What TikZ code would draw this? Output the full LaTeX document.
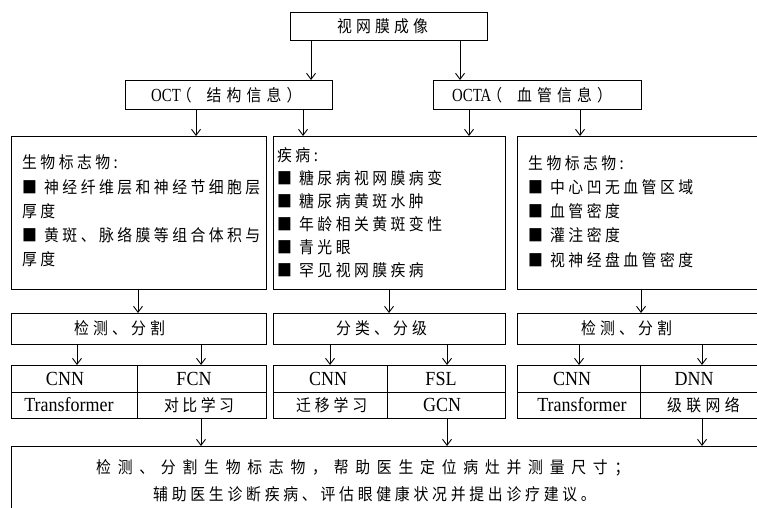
\documentclass[tikz,border=0pt]{standalone}
\usepackage{fontspec}
\setmainfont{Liberation Serif}
\newfontfamily\cjk[FakeStretch=0.9]{Noto Sans CJK SC}
\newfontfamily\latA[FakeStretch=0.9]{Liberation Serif}
\newfontfamily\latB[FakeStretch=0.8]{Liberation Serif}
\usetikzlibrary{arrows.meta}
\makeatletter
\newlength\pitchlen
\def\gr#1{\gr@#1\@nil}
\def\gr@#1{\ifx\@nil#1\else\makebox[\pitchlen][l]{#1}\expandafter\gr@\fi}
\newcommand\tk[2]{\setlength\pitchlen{#1pt}\gr{#2}}
\makeatother
\newcommand\bul{\makebox[22pt][l]{■}}
\begin{document}
\begin{tikzpicture}[x=1pt,y=-1pt,
  box/.style={draw, line width=1.1pt, rectangle, inner sep=0pt, anchor=north west},
  arr/.style={line width=0.9pt, -{Straight Barb[length=6pt,width=9pt,line width=0.9pt]}},
  zh/.style={font=\cjk\fontsize{16.5}{20}\selectfont, inner sep=0pt, anchor=west},
  lat/.style={font=\latA\fontsize{20}{22}\selectfont, inner sep=0pt},
  lst/.style={align=left, anchor=west, inner sep=0pt}
]
\path[use as bounding box] (0,0) rectangle (757,508);
\clip (0,0) rectangle (757,508);

% top
\node[box, minimum width=197pt, minimum height=28pt] (top) at (290,12) {};
\node[zh] (toptxt) at (337,26) {\tk{19}{视网膜成像}};

\node[box, minimum width=207pt, minimum height=29pt] (oct) at (125,80) {};
\node[inner sep=0pt, anchor=west] (octtxt) at (151,95)
 {{\latB\fontsize{18.5}{20}\selectfont OCT}\kern-4pt{\cjk\fontsize{16.5}{20}\selectfont（\kern15pt\tk{20}{结构信息}）}};
\node[box, minimum width=208pt, minimum height=29pt] (octa) at (433,80) {};
\node[inner sep=0pt, anchor=west] (octatxt) at (452,95)
 {{\latB\fontsize{18.5}{20}\selectfont OCTA}\kern-4pt{\cjk\fontsize{16.5}{20}\selectfont（\kern15pt\tk{20}{血管信息}）}};

% big boxes
\node[box, minimum width=255pt, minimum height=153pt] (b1) at (11,136) {};
\node[box, minimum width=232pt, minimum height=153pt] (b2) at (273,136) {};
\node[box, minimum width=255pt, minimum height=153pt] (b3) at (517,136) {};

\node[lst, font=\cjk\fontsize{16.5}{24.2}\selectfont] (b1txt) at (22,211)
 {\tk{18.3}{生物标志物}:\\
  \bul\tk{18.3}{神经纤维层和神经节细胞层}\\
  \tk{18.3}{厚度}\\
  \bul\tk{18.3}{黄斑、脉络膜等组合体积与}\\
  \tk{18.3}{厚度}};
\node[lst, font=\cjk\fontsize{16.5}{23}\selectfont] (b2txt) at (277,212.5)
 {\tk{18.3}{疾病}:\\
  \bul\tk{18.3}{糖尿病视网膜病变}\\
  \bul\tk{18.3}{糖尿病黄斑水肿}\\
  \bul\tk{18.3}{年龄相关黄斑变性}\\
  \bul\tk{18.3}{青光眼}\\
  \bul\tk{18.3}{罕见视网膜疾病}};
\node[lst, font=\cjk\fontsize{16.5}{24.2}\selectfont] (b3txt) at (528,211.5)
 {\tk{18.3}{生物标志物}:\\
  \bul\tk{18.3}{中心凹无血管区域}\\
  \bul\tk{18.3}{血管密度}\\
  \bul\tk{18.3}{灌注密度}\\
  \bul\tk{18.3}{视神经盘血管密度}};

% process boxes
\node[box, minimum width=255pt, minimum height=31pt] (p1) at (11,313) {};
\node[zh] (p1txt) at (74,328.5) {\tk{19}{检测、分割}};
\node[box, minimum width=232pt, minimum height=31pt] (p2) at (273,313) {};
\node[zh] (p2txt) at (336,328.5) {\tk{19}{分类、分级}};
\node[box, minimum width=255pt, minimum height=31pt] (p3) at (517,313) {};
\node[zh] (p3txt) at (581,328.5) {\tk{19}{检测、分割}};

% tables
\node[box, minimum width=126pt, minimum height=27pt] (a11) at (11,365) {};
\node[box, minimum width=129pt, minimum height=27pt] (a12) at (137,365) {};
\node[box, minimum width=126pt, minimum height=26pt] (a21) at (11,392) {};
\node[box, minimum width=129pt, minimum height=26pt] (a22) at (137,392) {};
\node[lat] (a11t) at (65,378.5) {CNN};
\node[lat] (a12t) at (194,378.5) {FCN};
\node[lat] (a21t) at (69,405) {Transformer};
\node[zh] (a22t) at (164,405) {\tk{18.3}{对比学习}};

\node[box, minimum width=114pt, minimum height=27pt] (c11) at (273,365) {};
\node[box, minimum width=118pt, minimum height=27pt] (c12) at (387,365) {};
\node[box, minimum width=114pt, minimum height=26pt] (c21) at (273,392) {};
\node[box, minimum width=118pt, minimum height=26pt] (c22) at (387,392) {};
\node[lat] (c11t) at (328,378.5) {CNN};
\node[lat] (c12t) at (441,378.5) {FSL};
\node[zh] (c21t) at (296,405) {\tk{18.7}{迁移学习}};
\node[lat] (c22t) at (442,405) {GCN};

\node[box, minimum width=123pt, minimum height=27pt] (d11) at (517,365) {};
\node[box, minimum width=130pt, minimum height=27pt] (d12) at (640,365) {};
\node[box, minimum width=123pt, minimum height=26pt] (d21) at (517,392) {};
\node[box, minimum width=130pt, minimum height=26pt] (d22) at (640,392) {};
\node[lat] (d11t) at (572,378.5) {CNN};
\node[lat] (d12t) at (694,378.5) {DNN};
\node[lat] (d21t) at (582,405) {Transformer};
\node[zh] (d22t) at (667,405) {\tk{19.2}{级联网络}};

% result
\node[box, minimum width=760pt, minimum height=100pt] (res) at (11,446) {};
\node[zh] (res1) at (96,468) {\tk{21.6}{检测、分割生物标志物，帮助医生定位病灶并测量尺寸；}};
\node[zh] (res2) at (153,494) {\tk{18.6}{辅助医生诊断疾病、评估眼健康状况并提出诊疗建议。}};

% arrows
\draw[arr] (top.south -| 311,0) -- (oct.north -| 311,0);
\draw[arr] (top.south -| 460,0) -- (octa.north -| 460,0);
\draw[arr] (oct.south -| 196,0) -- (b1.north -| 196,0);
\draw[arr] (oct.south -| 303,0) -- (b2.north -| 303,0);
\draw[arr] (octa.south -| 469,0) -- (b2.north -| 469,0);
\draw[arr] (octa.south -| 580,0) -- (b3.north -| 580,0);
\draw[arr] (b1.south -| 138,0) -- (p1.north -| 138,0);
\draw[arr] (b2.south -| 389,0) -- (p2.north -| 389,0);
\draw[arr] (b3.south -| 641,0) -- (p3.north -| 641,0);
\draw[arr] (p1.south -| 77,0) -- (a11.north -| 77,0);
\draw[arr] (p1.south -| 201,0) -- (a12.north -| 201,0);
\draw[arr] (p2.south -| 330,0) -- (c11.north -| 330,0);
\draw[arr] (p2.south -| 447,0) -- (c12.north -| 447,0);
\draw[arr] (p3.south -| 579,0) -- (d11.north -| 579,0);
\draw[arr] (p3.south -| 702,0) -- (d12.north -| 702,0);
\draw[arr] (a22.south -| 201,0) -- (res.north -| 201,0);
\draw[arr] (c22.south -| 447,0) -- (res.north -| 447,0);
\draw[arr] (d22.south -| 702,0) -- (res.north -| 702,0);
\end{tikzpicture}
\end{document}
